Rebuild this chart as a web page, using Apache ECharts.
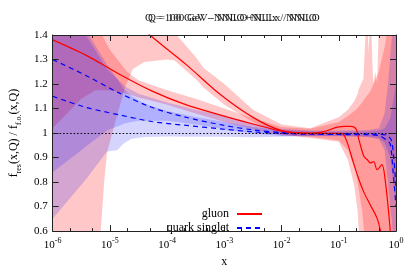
<!DOCTYPE html>
<html><head><meta charset="utf-8">
<script src="https://cdn.jsdelivr.net/npm/echarts@6/dist/echarts.min.js"></script>
<style>html,body{margin:0;padding:0;background:#fff}#c{width:411px;height:273px}</style>
</head><body><div id="c"></div>
<script>
// ---- data (x values given as log10(x)) ----
const titleText = 'Q = 100 GeV - NNLO+NLLx / NNLO';
const seriesNames = ['gluon', 'quark singlet'];
const yTicks = { min: 0.6, max: 1.4, step: 0.1 };
const xDecades = [-6, -5, -4, -3, -2, -1, 0];
const minorMantissas = [2, 5];
const refValue = 1;

const gluonA_lx = [-6, -5.42, -4.85, -4.27, -3.7, -3.02, -2.5, -2, -1.5, -1.3, -1.02, -0.9, -0.79, -0.7, -0.646, -0.56, -0.5, -0.445, -0.39, -0.33, -0.245, -0.19, -0.13, -0.1, -0.05];
const gluonA_v  = [1.38, 1.318, 1.242, 1.172, 1.118, 1.07, 1.037, 1.008, 1.0, 1.004, 1.024, 1.027, 1.027, 1.017, 0.971, 0.904, 0.891, 0.878, 0.884, 0.851, 0.871, 0.81, 0.68, 0.60, 0.45];

const gluonB_lx = [-4.6, -4.3, -3.65, -3.07, -2.5, -2, -1.5, -1.0, -0.93, -0.845, -0.76, -0.67, -0.56, -0.445, -0.33, -0.27, -0.2];
const gluonB_v  = [1.47, 1.40, 1.276, 1.157, 1.064, 1.01, 0.998, 0.999, 0.997, 0.957, 0.891, 0.825, 0.758, 0.705, 0.652, 0.60, 0.52];

const quark1_lx = [-6, -5.42, -4.85, -4.27, -3.7, -3.02, -2.5, -2, -1.5, -1, -0.5, -0.3, -0.15, -0.08, -0.04, 0];
const quark1_v  = [1.30, 1.235, 1.165, 1.105, 1.066, 1.032, 1.013, 1.002, 0.997, 0.997, 0.996, 0.995, 0.99, 0.97, 0.9, 0.78];

const quark2_lx = [-6, -5.42, -4.85, -4.27, -3.7, -3.02, -2.5, -2, -1.5, -1, -0.5, -0.3, -0.16, -0.1, -0.05, 0];
const quark2_v  = [1.15, 1.105, 1.075, 1.047, 1.032, 1.016, 1.005, 0.999, 0.995, 0.994, 0.993, 0.99, 0.97, 0.955, 0.84, 0.7];

// uncertainty bands: log10(x), lower, upper
const bandA_lx = [-6, -5.5, -5.25, -5.0, -4.7, -4.5, -4.0, -3.5, -3.0, -2.5, -2.0, -1.5, -1.0, -0.84, -0.7, -0.59, -0.55, -0.45, -0.3, -0.19, -0.1, 0];
const bandA_lo = [1.02, 1.14, 1.175, 1.175, 1.16, 1.145, 1.115, 1.08, 1.045, 1.015, 0.99, 0.985, 0.97, 0.93, 0.84, 0.68, 0.58, 0.48, 0.40, 0.35, 0.3, 0.2];
const bandA_hi = [1.80, 1.58, 1.45, 1.34, 1.25, 1.215, 1.175, 1.14, 1.10, 1.06, 1.025, 1.018, 1.045, 1.07, 1.095, 1.125, 1.14, 1.17, 1.25, 1.36, 1.5, 1.6];

const bandB_lx = [-6, -5.3, -5.16, -5.1, -5.05, -4.9, -4.73, -4.6, -4.4, -4.0, -3.87, -3.5, -3.36, -3.0, -2.5, -2.0, -1.5, -1.0, -0.84, -0.73, -0.67, -0.65, -0.57, -0.53, -0.5, -0.48, -0.46, -0.43, -0.40, -0.36, -0.33, -0.30, 0];
const bandB_lo = [0.3, 0.4, 0.6, 0.8, 0.92, 1.05, 1.19, 1.26, 1.29, 1.30, 1.296, 1.22, 1.185, 1.115, 1.045, 0.995, 0.98, 0.965, 0.89, 0.785, 0.68, 0.6, 0.5, 0.45, 0.4, 0.4, 0.4, 0.4, 0.35, 0.35, 0.3, 0.3, 0.2];
const bandB_hi = [2.0, 1.9, 1.85, 1.8, 1.78, 1.72, 1.65, 1.58, 1.50, 1.44, 1.41, 1.31, 1.265, 1.20, 1.095, 1.035, 1.02, 1.064, 1.095, 1.13, 1.16, 1.18, 1.22, 1.42, 1.45, 1.33, 1.45, 1.42, 1.2, 1.25, 1.2, 1.45, 1.6];

const bandQ1_lx = [-6, -5.5, -5.42, -5.05, -4.73, -4.5, -4.0, -3.5, -3.0, -2.5, -2.0, -1.5, -1.0, -0.5, -0.3, -0.2, -0.14, -0.07, 0];
const bandQ1_lo = [0.84, 0.93, 0.945, 1.01, 1.04, 1.05, 1.05, 1.035, 1.015, 0.998, 0.988, 0.987, 0.987, 0.984, 0.975, 0.93, 0.80, 0.63, 0.4];
const bandQ1_hi = [1.80, 1.50, 1.40, 1.26, 1.19, 1.16, 1.125, 1.095, 1.07, 1.04, 1.018, 1.01, 1.01, 1.012, 1.02, 1.08, 1.20, 1.40, 1.7];

const bandQ2_lx = [-6, -5.42, -5.05, -4.87, -4.76, -4.62, -4.39, -4.0, -3.5, -3.0, -2.5, -2.0, -1.5, -1.0, -0.5, -0.3, -0.2, -0.1, 0];
const bandQ2_lo = [0.65, 0.81, 0.925, 0.93, 0.957, 0.977, 0.984, 0.986, 0.985, 0.985, 0.983, 0.985, 0.988, 0.988, 0.986, 0.98, 0.96, 0.9, 0.7];
const bandQ2_hi = [1.65, 1.42, 1.28, 1.22, 1.18, 1.15, 1.12, 1.09, 1.065, 1.045, 1.025, 1.012, 1.006, 1.005, 1.006, 1.01, 1.02, 1.06, 1.2];

// ---- build ----
const X = lx => Math.pow(10, lx);
const pts = (lx, v) => lx.map((l, i) => [X(l), v[i]]);
const RED = '#ff0000', BLUE = '#0000ff';
const RED_BAND = 'rgba(255,0,0,0.22)', BLUE_BAND = 'rgba(0,0,255,0.17)';
const FONT = 'Liberation Serif';

function band(id, lx, lo, hi, color) {
  const lower = pts(lx, lo), upper = pts(lx, hi);
  return {
    type: 'custom', name: id, silent: true, clip: true, z: 1,
    data: [lower[0]],
    encode: { x: 0, y: 1 },
    renderItem: function (params, api) {
      const poly = lower.map(p => api.coord(p)).concat(upper.slice().reverse().map(p => api.coord(p)));
      return { type: 'polygon', shape: { points: poly }, style: { fill: color, stroke: null } };
    }
  };
}
function curve(name, lx, v, color, dashed) {
  return { type: 'line', name: name, data: pts(lx, v), symbol: 'none', showSymbol: false, smooth: 0.3, z: 3,
    lineStyle: { color: color, width: 1.2, type: dashed ? [5, 4] : 'solid' }, itemStyle: { color: color } };
}

const minorVals = [];
xDecades.slice(0, -1).forEach(d => minorMantissas.forEach(m => minorVals.push(m * X(d))));

const xBase = { type: 'log', logBase: 10, min: X(xDecades[0]), max: X(xDecades[xDecades.length - 1]), splitNumber: 6, splitLine: { show: false }, z: 10 };
const axisCol = '#222';
const xLabel = {
  fontFamily: FONT, fontSize: 11, color: '#000', margin: 6,
  formatter: v => '{b|10}{s|' + Math.round(Math.log10(v)) + '}',
  rich: { b: { fontFamily: FONT, fontSize: 11, color: '#000', verticalAlign: 'bottom', lineHeight: 14 },
          s: { fontFamily: FONT, fontSize: 8, color: '#000', verticalAlign: 'top', lineHeight: 10 } }
};

const series = [
  band('bB', bandB_lx, bandB_lo, bandB_hi, RED_BAND),
  band('bA', bandA_lx, bandA_lo, bandA_hi, RED_BAND),
  band('bQ1', bandQ1_lx, bandQ1_lo, bandQ1_hi, BLUE_BAND),
  band('bQ2', bandQ2_lx, bandQ2_lo, bandQ2_hi, BLUE_BAND),
  Object.assign(curve(seriesNames[1], quark1_lx, quark1_v, BLUE, true), {
    markLine: { silent: true, symbol: 'none', label: { show: false }, data: [{ yAxis: refValue }],
      lineStyle: { type: [1.5, 2], color: '#000', width: 1 } }
  }),
  curve(seriesNames[1], quark2_lx, quark2_v, BLUE, true),
  curve(seriesNames[0], gluonA_lx, gluonA_v, RED, false),
  curve(seriesNames[0], gluonB_lx, gluonB_v, RED, false)
];

const legendCommon = { right: 143, align: 'right', itemWidth: 25, itemHeight: 10, itemGap: 0, selectedMode: false,
  itemStyle: { opacity: 0 },
  textStyle: { fontFamily: FONT, fontSize: 12, color: '#000', padding: [0, 3, 0, 0] } };

const chart = echarts.init(document.getElementById('c'), null, { renderer: 'canvas' });
chart.setOption({
  animation: false,
  backgroundColor: '#fff',
  title: [
    { text: titleText, left: 140, top: 8, textStyle: { fontFamily: FONT, fontSize: 11, fontWeight: 'normal', color: '#222' } },
    { text: titleText, left: 143, top: 8, textStyle: { fontFamily: FONT, fontSize: 11, fontWeight: 'normal', color: '#222' } }
  ],
  grid: { left: 46, right: 15, top: 35, bottom: 37 },
  legend: [
    Object.assign({ data: [seriesNames[0]], top: 203 }, legendCommon),
    Object.assign({ data: [seriesNames[1]], top: 217 }, legendCommon)
  ],
  xAxis: [
    Object.assign({}, xBase, { position: 'bottom', name: 'x', nameLocation: 'middle', nameGap: 24,
      nameTextStyle: { fontFamily: FONT, fontSize: 12, color: '#000' },
      axisLine: { show: true, lineStyle: { color: axisCol, width: 1 } },
      axisTick: { show: true, inside: true, length: 6, lineStyle: { color: axisCol } },
      axisLabel: xLabel }),
    Object.assign({}, xBase, { position: 'bottom', axisLine: { show: false }, axisLabel: { show: false },
      axisTick: { show: true, inside: true, length: 3, customValues: minorVals, lineStyle: { color: axisCol } } }),
    Object.assign({}, xBase, { position: 'top', axisLine: { show: true, lineStyle: { color: axisCol, width: 1 } }, axisLabel: { show: false },
      axisTick: { show: true, inside: true, length: 6, lineStyle: { color: axisCol } } }),
    Object.assign({}, xBase, { position: 'top', axisLine: { show: false }, axisLabel: { show: false },
      axisTick: { show: true, inside: true, length: 3, customValues: minorVals, lineStyle: { color: axisCol } } })
  ],
  yAxis: [
    { type: 'value', min: yTicks.min, max: yTicks.max, interval: yTicks.step, position: 'left', z: 10,
      splitLine: { show: false },
      axisLine: { show: true, lineStyle: { color: axisCol } },
      axisTick: { show: true, inside: true, length: 6, lineStyle: { color: axisCol } },
      axisLabel: { fontFamily: FONT, fontSize: 11, color: '#000', margin: 5 },
      name: 'f{sb|res}(x,Q) / f{sb|f.o.}(x,Q)', nameLocation: 'middle', nameGap: 30, nameRotate: 90,
      nameTextStyle: { fontFamily: FONT, fontSize: 12, color: '#000',
        rich: { sb: { fontFamily: FONT, fontSize: 8, color: '#000', verticalAlign: 'bottom', lineHeight: 12, padding: [0, 0, -3, 0] } } } },
    { type: 'value', min: yTicks.min, max: yTicks.max, interval: yTicks.step, position: 'right', z: 10,
      splitLine: { show: false },
      axisLine: { show: true, lineStyle: { color: axisCol } },
      axisTick: { show: true, inside: true, length: 6, lineStyle: { color: axisCol } },
      axisLabel: { show: false } }
  ],
  series: series
});
</script></body></html>
